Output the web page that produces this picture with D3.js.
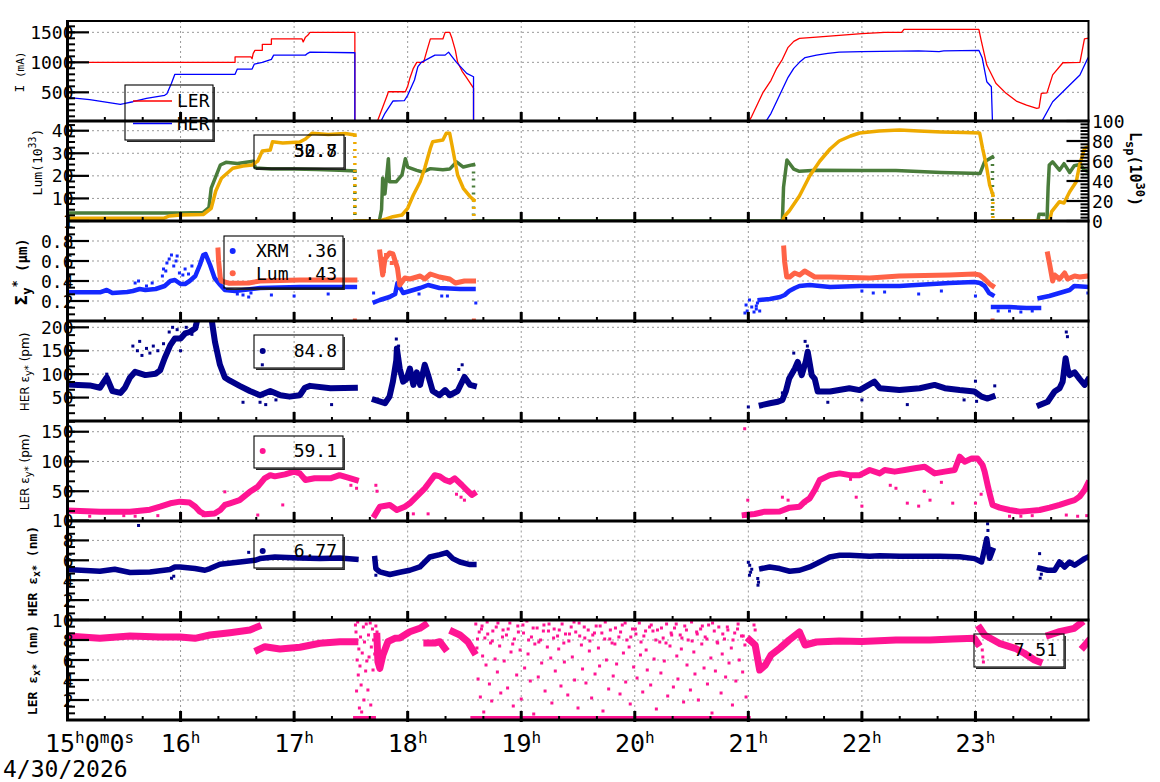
<!DOCTYPE html>
<html><head><meta charset="utf-8">
<script src="https://cdn.jsdelivr.net/npm/d3@7"></script>
<style>body{margin:0;background:#fff}svg{display:block}text{font-family:'DejaVu Sans Mono',monospace;fill:#000}</style>
</head><body><svg id="c" width="1160" height="782"></svg>
<script>
// ---------------- DATA ----------------
const hourTicks = [15,16,17,18,19,20,21,22,23];
const dateLabel = "4/30/2026";
const iTicks = [500,1000,1500];
const lumTicks = [10,20,30,40];
const lspTicks = [0,20,40,60,80,100];
const sigmaTicks = [0.2,0.4,0.6,0.8,1];
const herEyTicks = [50,100,150,200];
const lerEyTicks = [50,100,150];
const exTicks = [2,4,6,8,10];

// Beam currents (mA)
const lerCurrent = [[15.0,1000],[16.48,1000],[16.48,1090],[16.62,1090],[16.63,1060],[16.64,1150],[16.655,1200],[16.72,1200],[16.72,1300],[16.80,1300],[16.80,1390],[17.07,1390],[17.08,1340],[17.10,1420],[17.12,1450],[17.14,1500],[17.535,1500],[17.535,0],[17.73,0],[17.76,150],[17.79,300],[17.82,450],[17.83,510],[17.98,510],[18.0,600],[18.02,740],[18.05,900],[18.08,1000],[18.14,1000],[18.17,1200],[18.2,1390],[18.31,1390],[18.33,1500],[18.37,1500],[18.39,1400],[18.42,1200],[18.44,1000],[18.48,850],[18.52,740],[18.58,570],[18.58,0],[21.0,0],[21.03,100],[21.08,300],[21.13,500],[21.2,700],[21.25,900],[21.3,1050],[21.35,1250],[21.4,1350],[21.45,1400],[21.6,1420],[21.8,1450],[22.0,1480],[22.2,1500],[22.35,1500],[22.37,1550],[23.03,1550],[23.05,1370],[23.1,955],[23.18,650],[23.27,483],[23.36,355],[23.45,288],[23.54,233],[23.56,240],[23.58,483],[23.63,490],[23.68,790],[23.77,993],[23.92,1000],[23.96,1390],[23.99,1400]];
const herCurrent = [[15.0,417],[15.2,380],[15.47,300],[15.5,310],[15.58,343],[15.7,400],[15.86,450],[15.88,477],[15.92,650],[15.95,800],[16.48,800],[16.5,888],[16.63,888],[16.65,972],[16.72,1000],[16.80,1050],[16.82,1120],[17.10,1120],[17.12,1150],[17.14,1170],[17.535,1160],[17.535,0],[17.76,0],[17.8,150],[17.87,355],[17.97,360],[18.0,450],[18.06,705],[18.09,927],[18.12,1000],[18.24,1120],[18.33,1120],[18.36,1170],[18.38,1120],[18.43,1000],[18.52,816],[18.58,760],[18.58,0],[21.15,0],[21.2,150],[21.25,350],[21.3,550],[21.35,750],[21.4,900],[21.45,1000],[21.5,1080],[21.6,1120],[21.7,1150],[21.8,1170],[22.0,1180],[22.5,1190],[22.68,1180],[22.72,1190],[23.03,1200],[23.06,1072],[23.1,677],[23.14,593],[23.15,0],[23.58,0],[23.68,343],[23.77,510],[23.83,622],[23.92,788],[23.99,1072]];

// Luminosity (left axis, 10^33) and specific luminosity (right axis, 10^30)
const lumLeft = [[15.0,3.5],[15.5,3.5],[16.0,3.5],[16.2,3.8],[16.25,6],[16.27,14.6],[16.35,24.8],[16.4,26],[16.5,25.5],[16.64,26.5],[16.66,23.5],[16.8,23],[17.0,23],[17.2,22.8],[17.4,22.5],[17.535,22.2],[17.535,0],[17.75,0],[17.77,5],[17.78,19],[17.80,12],[17.83,27.6],[17.84,17.4],[17.9,17.4],[17.95,20.4],[17.98,27.6],[18.0,23.9],[18.08,22.4],[18.13,21.7],[18.2,23.2],[18.31,22.7],[18.37,23],[18.43,26.2],[18.49,23.9],[18.58,25],[18.58,0],[21.30,0],[21.31,15],[21.34,27],[21.4,23],[21.45,22],[21.6,22.5],[22.0,22.4],[22.3,22.4],[22.7,21.5],[23.04,21],[23.08,26.2],[23.15,28.4],[23.15,0],[23.55,0],[23.56,3],[23.6,3],[23.6,0],[23.63,0],[23.64,15],[23.65,24.8],[23.68,26.2],[23.74,22.5],[23.78,25.4],[23.83,21.5],[23.87,24.5],[23.92,25],[23.96,22.5],[23.99,22]];
const lspRight = [[15.0,2.7],[15.85,2.7],[15.9,5],[16.0,6],[16.2,6.5],[16.27,12.7],[16.31,30],[16.36,42.7],[16.46,52.7],[16.55,55],[16.63,56],[16.68,60],[16.72,70],[16.79,71],[16.81,79.3],[16.9,78],[17.05,79],[17.1,82],[17.157,87.7],[17.3,86.5],[17.45,87.5],[17.535,86],[17.535,0],[17.77,0],[17.78,1],[17.81,2],[17.87,4.3],[17.95,6],[18.0,12.7],[18.05,26],[18.11,39.3],[18.15,52.7],[18.2,72.7],[18.22,79.3],[18.31,81],[18.34,87.7],[18.37,87.7],[18.39,76],[18.44,46],[18.49,32.7],[18.55,24.3],[18.583,21],[18.583,0],null,[21.30,0],[21.32,5],[21.36,10],[21.45,25],[21.54,45],[21.63,60],[21.72,72],[21.8,80],[21.9,85],[21.98,88],[22.15,90],[22.33,91],[22.5,90],[22.7,89],[22.9,88.5],[23.037,88],[23.063,72.7],[23.095,56],[23.125,36],[23.154,26],[23.154,0],[23.63,0],[23.653,0],[23.671,9.3],[23.74,19.3],[23.78,18],[23.83,29.3],[23.888,39.3],[23.917,56],[23.961,72.7],[23.99,74]];

// Vertical beam size (um)
const sigmaXrm = [[15.0,0.287],[15.29,0.287],[15.35,0.31],[15.4,0.28],[15.53,0.29],[15.58,0.30],[15.64,0.32],[15.69,0.31],[15.78,0.32],[15.86,0.35],[15.91,0.40],[15.95,0.41],[16.0,0.37],[16.04,0.37],[16.08,0.40],[16.13,0.45],[16.17,0.56],[16.2,0.66],[16.22,0.67],[16.26,0.56],[16.30,0.43],[16.35,0.36],[16.39,0.31],[16.48,0.30],[16.7,0.33],[17.05,0.34],[17.535,0.34],null,[17.71,0.19],[17.755,0.21],[17.84,0.24],[17.89,0.27],[17.91,0.38],[17.96,0.28],[18.02,0.30],[18.11,0.33],[18.18,0.36],[18.28,0.33],[18.46,0.32],[18.58,0.32],null,[21.1,0.21],[21.19,0.22],[21.28,0.24],[21.32,0.26],[21.36,0.30],[21.41,0.33],[21.45,0.35],[21.54,0.36],[21.72,0.34],[21.98,0.35],[22.33,0.35],[22.77,0.38],[22.99,0.39],[23.04,0.38],[23.08,0.35],[23.12,0.28],[23.15,0.26],null,[23.155,0.14],[23.3,0.14],[23.45,0.13],[23.56,0.13],null,[23.565,0.23],[23.65,0.25],[23.74,0.28],[23.83,0.31],[23.87,0.35],[23.99,0.34]];
const sigmaXrmPts = [[20.97,0.08],[20.98,0.16],[20.99,0.10],[21.01,0.21],[21.03,0.14],[21.05,0.09],[21.07,0.12],[21.08,0.18],[21.1,0.1],[21.07,0.15],[15.84,0.45],[15.85,0.52],[15.87,0.5],[15.88,0.58],[15.9,0.62],[15.92,0.66],[15.94,0.55],[15.96,0.6],[15.97,0.65],[15.99,0.48],[16.02,0.46],[16.04,0.52],[16.07,0.47],[16.1,0.55],[15.6,0.38],[15.63,0.4],[15.7,0.35],[15.75,0.38],[16.5,0.27],[16.55,0.26],[16.6,0.24],[16.62,0.28],[16.8,0.26],[17.0,0.25],[17.3,0.27],[17.7,0.28],[18.6,0.18],[22.0,0.3],[22.1,0.28],[22.2,0.29],[22.5,0.27],[22.7,0.3],[23.2,0.1],[23.3,0.1],[23.4,0.09],[23.5,0.1],[23.0,0.25],[23.99,0.28],[18.3,0.25],[18.35,0.25],[18.1,0.27]];
const sigmaLum = [[16.33,0.71],[16.335,0.6],[16.35,0.43],[16.36,0.40],[16.43,0.377],[16.6,0.38],[16.7,0.40],[17.05,0.41],[17.535,0.41],null,[17.755,0.69],[17.77,0.55],[17.78,0.46],[17.8,0.62],[17.84,0.68],[17.87,0.67],[17.89,0.6],[17.91,0.53],[17.93,0.36],[17.975,0.43],[18.02,0.42],[18.11,0.45],[18.15,0.42],[18.2,0.47],[18.28,0.44],[18.37,0.42],[18.42,0.38],[18.5,0.40],[18.58,0.40],null,[21.312,0.73],[21.32,0.59],[21.338,0.44],[21.364,0.44],[21.408,0.48],[21.452,0.46],[21.496,0.50],[21.54,0.47],[21.585,0.44],[21.72,0.44],[22.07,0.43],[22.33,0.45],[22.77,0.46],[22.99,0.47],[23.037,0.46],[23.08,0.42],[23.125,0.37],[23.151,0.35],null,[23.636,0.67],[23.653,0.57],[23.68,0.40],[23.697,0.46],[23.741,0.42],[23.785,0.48],[23.812,0.42],[23.873,0.45],[23.917,0.44],[23.99,0.45]];
const sigmaLumPts = [[17.535,0.005],[18.583,0.005],[23.151,0.005],[17.77,0.62],[17.79,0.5],[17.81,0.66],[17.86,0.58]];

// HER vertical emittance (pm)
const herEyLine = [[15.0,78],[15.2,76],[15.29,71],[15.35,93],[15.4,64],[15.47,60],[15.51,71],[15.555,93],[15.6,105],[15.69,98],[15.78,101],[15.82,108],[15.86,134],[15.91,162],[15.95,176],[16.0,176],[16.04,187],[16.08,190],[16.13,198],[16.17,240],[16.26,240],[16.285,198],[16.303,169],[16.347,120],[16.39,93],[16.435,86],[16.52,75],[16.61,64],[16.7,55],[16.79,64],[16.88,55],[16.96,52],[17.05,55],[17.095,71],[17.14,75],[17.32,70],[17.535,71],null,[17.71,45],[17.8,38],[17.84,52],[17.87,84],[17.9,130],[17.905,155],[17.93,112],[17.96,84],[17.99,90],[18.02,112],[18.05,77],[18.08,104],[18.11,77],[18.15,120],[18.18,98],[18.22,64],[18.28,55],[18.33,66],[18.37,55],[18.44,64],[18.5,94],[18.55,77],[18.583,75],null,[21.118,34],[21.19,38],[21.26,41],[21.3,45],[21.33,63],[21.36,91],[21.41,112],[21.435,126],[21.47,98],[21.505,126],[21.523,148],[21.558,98],[21.585,90],[21.611,63],[21.72,63],[21.89,70],[21.98,66],[22.11,84],[22.157,70],[22.33,66],[22.51,70],[22.64,77],[22.73,70],[22.86,66],[22.99,63],[23.054,52],[23.107,48],[23.151,52],null,[23.565,34],[23.636,41],[23.697,63],[23.741,70],[23.768,84],[23.794,134],[23.812,110],[23.829,98],[23.873,104],[23.917,90],[23.961,77],[23.99,88]];
const herEyPts = [[15.58,160],[15.62,150],[15.64,170],[15.66,140],[15.7,155],[15.73,145],[15.76,160],[15.8,150],[15.35,100],[15.9,190],[15.93,200],[15.97,195],[16.0,150],[16.05,200],[16.1,185],[15.85,165],[16.7,40],[16.75,35],[16.84,45],[16.72,120],[17.33,35],[16.55,40],[17.9,175],[17.92,160],[18.45,110],[18.48,120],[21.3,60],[21.4,145],[21.5,170],[21.52,160],[22.4,35],[23.01,42],[23.17,75],[23.8,190],[23.81,180],[23.0,85],[22.9,45],[21.0,30],[21.7,40],[22.0,45]];

// LER vertical emittance (pm)
const lerEyLine = [[15.0,17.5],[15.29,15.7],[15.555,15.7],[15.73,19],[15.82,24],[15.91,29.7],[15.995,32.5],[16.08,31],[16.13,24],[16.17,15.7],[16.215,11.2],[16.3,12.5],[16.35,18.5],[16.39,27],[16.435,29.7],[16.52,35],[16.61,49],[16.68,57.7],[16.74,71.7],[16.79,77],[16.83,75],[16.92,78.4],[17.0,82.9],[17.05,80],[17.1,68.9],[17.18,71.7],[17.32,71.7],[17.4,77],[17.49,72],[17.544,69],null,[17.711,10],[17.755,24],[17.843,26.9],[17.905,18.5],[17.975,24],[18.019,29.7],[18.063,38],[18.107,46.5],[18.151,54.9],[18.195,66],[18.239,77],[18.283,75],[18.327,69],[18.371,66],[18.415,71.7],[18.477,60.5],[18.521,52],[18.565,43.7],[18.583,46],null,[20.968,10],[21.056,11.8],[21.144,15.7],[21.276,16],[21.364,22.4],[21.452,24],[21.496,32.5],[21.54,38],[21.585,52],[21.629,68.9],[21.717,77],[21.805,80],[21.893,77],[21.981,77],[22.069,85.7],[22.157,80],[22.201,85.7],[22.289,82.9],[22.377,85.7],[22.465,88.5],[22.553,91],[22.641,80],[22.729,83],[22.817,85.7],[22.861,108],[22.905,99.7],[22.967,105],[23.019,105],[23.063,94],[23.081,82.9],[23.107,60.5],[23.125,46],[23.151,27],[23.213,22.4],[23.301,18.5],[23.389,15.7],[23.477,17],[23.565,18.5],[23.653,22.4],[23.741,27],[23.829,32.5],[23.873,35],[23.917,40.9],[23.961,52],[23.99,63]];
const lerEyPts = [[20.995,35],[20.968,155],[15.2,8],[15.5,9],[15.6,8],[15.8,9],[16.0,10],[16.2,9],[16.39,49],[16.68,10],[16.9,27],[17.5,60],[17.55,55],[17.72,60],[17.73,50],[18.0,10],[18.05,12],[18.18,12],[18.43,45],[18.47,40],[18.5,35],[21.3,40],[21.35,35],[21.5,30],[21.6,55],[21.95,40],[22.0,25],[22.4,30],[22.5,25],[22.6,35],[22.8,30],[23.0,30],[23.05,45],[23.3,8],[23.4,8],[23.5,9],[23.8,10],[23.9,8],[23.98,9],[22.3,55],[22.25,60],[21.9,70],[22.55,50],[22.7,65]];

// HER horizontal emittance (nm)
const herExLine = [[15.0,5.07],[15.29,4.9],[15.42,5.1],[15.555,4.77],[15.731,4.83],[15.907,5.07],[15.95,5.33],[15.995,5.33],[16.127,5.17],[16.215,5.0],[16.259,5.17],[16.347,5.6],[16.523,5.83],[16.655,6.0],[16.699,6.17],[16.831,6.33],[17.051,6.23],[17.227,6.17],[17.403,6.23],[17.544,6.1],null,[17.711,6.17],[17.72,5.17],[17.755,4.83],[17.843,4.57],[17.931,4.8],[18.019,5.0],[18.107,5.33],[18.151,5.83],[18.195,6.33],[18.283,6.57],[18.345,6.77],[18.398,6.17],[18.46,5.83],[18.548,5.57],[18.583,5.57],null,[21.118,5.17],[21.188,5.33],[21.276,5.17],[21.364,4.9],[21.452,5.0],[21.54,5.33],[21.629,5.83],[21.717,6.33],[21.805,6.5],[21.893,6.5],[22.069,6.4],[22.157,6.45],[22.333,6.4],[22.509,6.4],[22.685,6.4],[22.861,6.35],[22.993,6.17],[23.054,5.83],[23.081,7.17],[23.099,8.17],[23.125,6.2],[23.151,7.0],null,[23.565,5.2],[23.636,5.0],[23.697,5.0],[23.741,5.83],[23.785,5.33],[23.829,5.83],[23.873,5.5],[23.917,5.83],[23.961,6.17],[23.99,6.33]];
const herExPts = [[21.012,5.5],[21.02,4.8],[21.03,5.1],[21.083,4.17],[21.085,3.5],[21.09,3.8],[23.107,9.67],[23.11,9.0],[15.63,9.5],[15.92,4.2],[15.94,4.4],[16.6,6.8],[17.71,5.8],[17.72,4.5],[23.565,6.67],[23.57,4.2],[23.58,4.6],[21.0,5.8],[21.01,4.5]];

// LER horizontal emittance (nm)
const lerExLine = [[15.0,8.4],[15.29,8.17],[15.555,8.4],[15.819,8.3],[15.995,8.3],[16.127,8.17],[16.259,8.5],[16.435,8.73],[16.611,9.0],[16.681,9.33],null,[16.681,7.0],[16.743,7.33],[16.875,7.1],[17.051,7.27],[17.227,7.67],[17.403,7.83],[17.535,7.83],null,[17.729,8.37],[17.738,5.83],[17.755,5.17],[17.782,6.5],[17.826,7.83],[17.887,8.17],[17.931,8.2],[18.019,8.83],[18.107,9.17],[18.151,9.5],null,[18.169,7.7],[18.239,7.7],[18.283,7.83],[18.327,7.17],null,[18.398,8.83],[18.46,8.5],[18.53,7.83],[18.583,6.83],null,[21.012,8.0],[21.06,7.5],[21.1,5.0],[21.15,5.5],[21.2,6.5],[21.28,7.2],[21.36,8.0],[21.45,8.8],[21.5,7.5],[21.6,7.8],[21.8,7.9],[22.0,7.85],[22.3,8.0],[22.6,8.0],[22.8,8.1],[22.99,8.17],[23.02,7.67],null,[23.04,9.17],[23.08,8.5],[23.21,7.67],[23.35,7.17],[23.43,6.67],[23.52,6.0],[23.56,5.83],null,[23.65,8.5],[23.74,8.83],[23.87,9.17],[23.926,9.67],null,[23.952,7.33],[23.99,7.83],null,[17.55,0.05],[17.6,0.05],null,[17.65,0.05],[17.69,0.05],null,[18.583,0.05],[20.99,0.05]];
const lerExPts = [[17.54,9.5],[17.545,8.8],[17.55,2.9],[17.555,6.0],[17.56,9.8],[17.565,4.5],[17.57,7.1],[17.575,1.2],[17.58,5.4],[17.585,8.3],[17.59,3.5],[17.595,0.8],[17.60,6.7],[17.61,9.3],[17.615,2.0],[17.62,7.8],[17.63,4.9],[17.635,9.6],[17.64,5.9],[17.65,3.0],[17.655,8.5],[17.66,6.3],[17.67,9.7],[17.675,1.5],[17.68,7.3],[17.69,9.1],[17.695,5.0],[17.70,8.0],[17.71,6.6],[17.72,9.4],[17.725,7.5],[17.73,8.8],
[18.60,9.6],[18.61,7.2],[18.62,4.1],[18.63,8.8],[18.64,2.3],[18.65,9.1],[18.66,6.4],[18.67,0.8],[18.68,8.2],[18.69,5.5],[18.70,9.8],[18.72,3.6],[18.73,7.7],[18.74,1.9],[18.75,8.9],[18.77,6.1],[18.78,9.3],[18.79,4.8],[18.81,7.4],[18.82,2.7],[18.84,9.0],[18.85,5.9],[18.87,8.5],[18.88,3.2],[18.90,9.7],[18.91,6.8],[18.93,1.4],[18.94,8.1],[18.96,4.5],[18.97,9.4],[18.99,7.0],[19.00,2.1],[19.02,8.7],[19.03,5.2],[19.05,9.9],[19.06,6.6],[19.08,3.9],[19.09,8.3],[19.11,0.6],[19.12,7.6],[19.14,9.2],[19.15,4.3],[19.17,8.0],[19.18,5.7],[19.20,9.5],[19.21,2.9],[19.23,7.3],[19.24,8.9],[19.26,6.2],[19.27,1.7],[19.29,9.1],[19.30,4.9],[19.32,8.4],[19.33,7.1],[19.35,3.4],[19.36,9.6],[19.38,5.8],[19.39,8.6],[19.41,2.5],[19.42,7.9],[19.44,9.3],[19.45,6.3],[19.47,4.0],[19.48,8.8],[19.50,1.2],[19.51,9.7],[19.53,7.5],[19.54,5.1],[19.56,8.2],[19.57,3.7],[19.59,9.0],[19.60,6.9],[19.62,2.2],[19.63,8.5],[19.65,4.6],[19.66,9.4],[19.68,7.2],[19.69,5.4],[19.71,8.7],[19.72,0.9],[19.74,9.8],[19.75,6.0],[19.77,3.1],[19.78,8.1],[19.80,7.7],[19.81,4.4],[19.83,9.2],[19.84,5.6],[19.86,8.3],[19.87,2.6],[19.89,9.5],[19.90,6.7],[19.92,3.8],[19.93,8.0],[19.95,7.3],[19.96,1.6],[19.98,9.1],[19.99,5.3],[20.01,8.6],[20.02,4.2],[20.04,9.7],[20.05,6.5],[20.07,2.8],[20.08,8.4],[20.10,7.0],[20.11,5.0],[20.13,9.3],[20.14,3.5],[20.16,8.9],[20.17,6.1],[20.19,1.1],[20.20,9.0],[20.22,7.8],[20.23,4.7],[20.25,8.2],[20.26,5.9],[20.28,9.6],[20.29,2.4],[20.31,7.4],[20.32,8.7],[20.34,3.3],[20.35,9.2],[20.37,6.4],[20.38,4.1],[20.40,8.5],[20.41,7.1],[20.43,1.8],[20.44,9.4],[20.46,5.5],[20.47,8.0],[20.49,3.0],[20.50,9.8],[20.52,6.8],[20.53,4.6],[20.55,8.6],[20.56,2.0],[20.58,9.1],[20.59,7.6],[20.61,5.2],[20.62,8.3],[20.64,3.6],[20.65,9.5],[20.67,6.2],[20.68,0.7],[20.70,8.9],[20.71,4.9],[20.73,7.7],[20.74,9.3],[20.76,2.7],[20.77,6.6],[20.79,8.1],[20.80,4.3],[20.82,9.0],[20.83,5.7],[20.85,7.2],[20.86,1.5],[20.88,8.7],[20.89,3.9],[20.91,9.6],[20.92,6.0],[20.94,8.4],[20.95,4.8],[20.97,7.5],[20.98,2.3],
[18.615,8.1],[18.655,9.4],[18.705,8.6],[18.745,7.9],[18.795,9.7],[18.835,8.3],[18.885,9.1],[18.925,7.6],[18.975,8.8],[19.015,9.5],[19.065,8.0],[19.105,9.2],[19.155,7.8],[19.195,8.9],[19.245,9.6],[19.285,8.2],[19.335,9.0],[19.375,7.7],[19.425,8.6],[19.465,9.8],[19.515,8.4],[19.555,9.3],[19.605,7.9],[19.645,8.7],[19.695,9.4],[19.735,8.1],[19.785,9.0],[19.825,7.6],[19.875,8.8],[19.915,9.7],[19.965,8.3],[20.005,9.1],[20.055,7.8],[20.095,8.9],[20.145,9.5],[20.185,8.0],[20.235,9.2],[20.275,7.7],[20.325,8.5],[20.365,9.6],[20.415,8.2],[20.455,9.0],[20.505,7.9],[20.545,8.8],[20.595,9.4],[20.635,8.1],[20.685,9.7],[20.725,7.8],[20.775,8.6],[20.815,9.3],[20.865,8.0],[20.905,9.1],[20.955,8.4],
[21.05,9.5],[21.06,9.0],[21.07,6.2],[21.08,5.5],[23.06,7.0],[23.065,6.3],[23.07,5.8]];

const currentLegend = ["LER","HER"];
const sigmaLegend = ["XRM","Lum"];
const sigmaLegendValues = [".36",".43"];
const lumLegendValues = ["50.7","32.8"];
const herEyLegendValue = "84.8";
const lerEyLegendValue = "59.1";
const herExLegendValue = "6.77";
const lerExLegendValue = "7.51";

// ---------------- DRAWING ----------------
const svg = d3.select('#c');
const L = 67, R = 1088.5;
const x = d3.scaleLinear().domain([15,24]).range([67,1089]);
const C = {red:'#ff0000', blue:'#0000ff', green:'#4a7c3b', orange:'#eeaa00', xrm:'#1428ff', lum:'#ff6347', navy:'#00008b', pink:'#ff1493'};

const panels = [
  {top:21, bot:121, dom:[22,1689], ticks:iTicks, minor:[100,1650,100]},
  {top:121, bot:221, dom:[0,44.3], ticks:lumTicks, minor:[2.5,44,2.5]},
  {top:221, bot:321, dom:[0,1], ticks:sigmaTicks, minor:[0.2/3,0.99,0.2/3]},
  {top:321, bot:421, dom:[0,213.5], ticks:herEyTicks, minor:[50/3,212,50/3]},
  {top:421, bot:521, dom:[0,168], ticks:lerEyTicks, minor:[50/3,167,50/3]},
  {top:520.5, bot:620, dom:[0,10], ticks:exTicks, minor:[2/3,9.9,2/3]},
  {top:620, bot:720, dom:[0,10], ticks:exTicks, minor:[2/3,9.9,2/3]},
];
panels.forEach(p => p.y = d3.scaleLinear().domain(p.dom).range([p.bot, p.top]));
const yLspRight = d3.scaleLinear().domain([0,100]).range([221,121]);

const defs = svg.append('defs');
panels.forEach((p,i) => {
  defs.append('clipPath').attr('id','clip'+i).append('rect')
    .attr('x',L).attr('y',p.top).attr('width',R-L).attr('height',p.bot-p.top);
});

const gGrid = svg.append('g');
const gData = svg.append('g');
const gAxes = svg.append('g');
const gLab = svg.append('g');

// grid
panels.forEach(p => {
  hourTicks.slice(1).forEach(h => {
    gGrid.append('line').attr('x1',x(h)).attr('x2',x(h)).attr('y1',p.top).attr('y2',p.bot)
      .attr('stroke','#999').attr('stroke-width',1).attr('stroke-dasharray','2,3');
  });
  p.ticks.forEach(v => {
    const yy = p.y(v);
    if (yy > p.top + 2 && yy < p.bot - 2)
      gGrid.append('line').attr('x1',L).attr('x2',R).attr('y1',yy).attr('y2',yy)
        .attr('stroke','#999').attr('stroke-width',1).attr('stroke-dasharray','2,3');
  });
});

function drawSeries(pi, data, yScale, color, width, dotDrops) {
  const g = gData.append('g').attr('clip-path','url(#clip'+pi+')');
  const runs = [], drops = [];
  let cur = [];
  data.forEach(p => {
    if (p === null) { if (cur.length) runs.push(cur); cur = []; return; }
    if (dotDrops && cur.length && p[0] === cur[cur.length-1][0]) {
      drops.push([cur[cur.length-1], p]); runs.push(cur); cur = [p]; return;
    }
    cur.push(p);
  });
  if (cur.length) runs.push(cur);
  const line = d3.line().x(d => x(d[0])).y(d => yScale(d[1]));
  runs.forEach(r => g.append('path').attr('d', line(r)).attr('fill','none')
    .attr('stroke',color).attr('stroke-width',width).attr('stroke-linejoin','round').attr('stroke-linecap','square'));
  drops.forEach(r => g.append('path').attr('d', line(r)).attr('fill','none')
    .attr('stroke',color).attr('stroke-width',width).attr('stroke-dasharray','2,5'));
}
function drawPts(pi, data, yScale, color, s) {
  gData.append('g').attr('clip-path','url(#clip'+pi+')').selectAll('rect').data(data).join('rect')
    .attr('x', d => x(d[0]) - s/2).attr('y', d => yScale(d[1]) - s/2)
    .attr('width', s).attr('height', s).attr('fill', color);
}

// panel 1
drawSeries(0, lerCurrent, panels[0].y, C.red, 1.3);
drawSeries(0, herCurrent, panels[0].y, C.blue, 1.3);
// panel 2
drawSeries(1, lumLeft, panels[1].y, C.green, 3.5, true);
drawSeries(1, lspRight, yLspRight, C.orange, 3.5, true);
// panel 3
drawPts(2, sigmaXrmPts, panels[2].y, C.xrm, 3);
drawSeries(2, sigmaXrm, panels[2].y, C.xrm, 4.5);
drawSeries(2, sigmaLum, panels[2].y, C.lum, 5);
drawPts(2, sigmaLumPts, panels[2].y, C.lum, 4);
// panel 4
drawPts(3, herEyPts, panels[3].y, C.navy, 3);
drawSeries(3, herEyLine, panels[3].y, C.navy, 6);
// panel 5
drawPts(4, lerEyPts, panels[4].y, C.pink, 3);
drawSeries(4, lerEyLine, panels[4].y, C.pink, 6);
// panel 6
drawPts(5, herExPts, panels[5].y, C.navy, 3);
drawSeries(5, herExLine, panels[5].y, C.navy, 5.5);
// panel 7
drawPts(6, lerExPts, panels[6].y, C.pink, 3);
drawSeries(6, lerExLine, panels[6].y, C.pink, 7);

// axes: ticks and frames
panels.forEach(p => {
  p.ticks.forEach(v => {
    const yy = p.y(v);
    gAxes.append('line').attr('x1',L).attr('x2',L+22).attr('y1',yy).attr('y2',yy).attr('stroke','#000').attr('stroke-width',2.2);
  });
  d3.range(p.minor[0], p.minor[1], p.minor[2]).forEach(v => {
    const yy = p.y(v);
    gAxes.append('line').attr('x1',L).attr('x2',L+8).attr('y1',yy).attr('y2',yy).attr('stroke','#000').attr('stroke-width',2);
  });
  d3.range(15+1/3, 24-0.01, 1/3).forEach(t => {
    const major = Math.abs(t - Math.round(t)) < 0.01;
    gAxes.append('line').attr('x1',x(t)).attr('x2',x(t))
      .attr('y1', p.bot - (major ? 9 : 4)).attr('y2', p.bot + (major ? 2 : 0))
      .attr('stroke','#000').attr('stroke-width', major ? 3 : 2);
  });
  p.ticks.forEach(v => {
    gLab.append('text').attr('x',73.5).attr('y',p.y(v)).attr('text-anchor','end')
      .attr('dominant-baseline','central').attr('font-size',18).text(String(v));
  });
});
lspTicks.forEach(v => {
  const yy = yLspRight(v);
  gAxes.append('line').attr('x1',R-22).attr('x2',R).attr('y1',yy).attr('y2',yy).attr('stroke','#000').attr('stroke-width',2.2);
  gLab.append('text').attr('x',1092).attr('y',yy).attr('dominant-baseline','central').attr('font-size',18).text(String(v));
});
d3.range(20/6, 100, 20/6).forEach(v => {
  const yy = yLspRight(v);
  gAxes.append('line').attr('x1',R-8).attr('x2',R).attr('y1',yy).attr('y2',yy).attr('stroke','#000').attr('stroke-width',2);
});
gAxes.append('line').attr('x1',L).attr('x2',R).attr('y1',21).attr('y2',21).attr('stroke','#000').attr('stroke-width',2);
panels.forEach(p => {
  gAxes.append('line').attr('x1',L-1).attr('x2',R+1).attr('y1',p.bot).attr('y2',p.bot).attr('stroke','#000').attr('stroke-width',3);
});
gAxes.append('line').attr('x1',L+0.5).attr('x2',L+0.5).attr('y1',20).attr('y2',721).attr('stroke','#000').attr('stroke-width',3);
gAxes.append('line').attr('x1',R).attr('x2',R).attr('y1',20).attr('y2',721).attr('stroke','#000').attr('stroke-width',2);

// x axis labels
hourTicks.forEach((h,i) => {
  const t = gLab.append('text').attr('y',751.5).attr('font-size',25);
  if (i === 0) {
    t.attr('x', x(h) - 22).attr('text-anchor','start');
    t.append('tspan').text(String(h));
    t.append('tspan').attr('font-size',16).attr('dy',-9).text('h');
    t.append('tspan').attr('dy',9).text('0');
    t.append('tspan').attr('font-size',16).attr('dy',-9).text('m');
    t.append('tspan').attr('dy',9).text('0');
    t.append('tspan').attr('font-size',16).attr('dy',-9).text('s');
  } else {
    t.attr('x', x(h)).attr('text-anchor','middle');
    t.append('tspan').text(String(h));
    t.append('tspan').attr('font-size',16).attr('dy',-9).text('h');
  }
});
gLab.append('text').attr('x',3).attr('y',777).attr('font-size',23).text(dateLabel);

function vTitle(cx, cy, rot, parts, weight) {
  const t = gLab.append('text').attr('transform',`translate(${cx},${cy}) rotate(${rot})`)
    .attr('text-anchor','middle').attr('font-weight',weight||'normal');
  parts.forEach(pp => {
    const s = t.append('tspan').attr('font-size',pp[1]).text(pp[0]);
    if (pp[2]) s.attr('dy',pp[2]);
    if (pp[3]) s.attr('font-family',pp[3]);
  });
}
vTitle(24, 72, -90, [['I',13],[' (mA)',11]]);
vTitle(42, 162, -90, [['Lum(10',13],['33',10,-6],[')',13,6]]);
vTitle(27, 272, -90, [['Σ',16,0,'DejaVu Sans'],['y',12,4],['*',12,-10],[' (μm)',14,6]], 'bold');
vTitle(29, 372, -90, [['HER ε',12,0,'DejaVu Sans'],['y*',10,3,'DejaVu Sans'],[' (pm)',12,-3,'DejaVu Sans']]);
vTitle(29, 472, -90, [['LER ε',12,0,'DejaVu Sans'],['y*',10,3,'DejaVu Sans'],[' (pm)',12,-3,'DejaVu Sans']]);
vTitle(37, 571, -90, [['HER ε',13],['x*',10,3],[' (nm)',13,-3]], 'bold');
vTitle(37, 670, -90, [['LER ε',13],['x*',10,3],[' (nm)',13,-3]], 'bold');
vTitle(1130, 169, 90, [['L',15],['sp',12,4],['(10',15,-4],['30',12,-6],[')',15,6]], 'bold');

// legends
function box(x0,y0,w,h) {
  gLab.append('path').attr('d',`M${x0+w+1.2},${y0+2}V${y0+h+1.2}H${x0+2}`)
    .attr('fill','none').attr('stroke','#222').attr('stroke-width',1.4);
  gLab.append('rect').attr('x',x0).attr('y',y0).attr('width',w).attr('height',h)
    .attr('fill','none').attr('stroke','#000').attr('stroke-width',1.1);
}
function dot(cx,cy,color) { gLab.append('circle').attr('cx',cx).attr('cy',cy).attr('r',3).attr('fill',color); }
function txt(x0,y0,s,anchor) { gLab.append('text').attr('x',x0).attr('y',y0).attr('font-size',18).attr('text-anchor',anchor||'start').text(s); }

box(125,85,88,55);
gLab.append('line').attr('x1',133).attr('x2',172).attr('y1',101).attr('y2',101).attr('stroke',C.red).attr('stroke-width',1.3);
gLab.append('line').attr('x1',133).attr('x2',172).attr('y1',123.5).attr('y2',123.5).attr('stroke',C.blue).attr('stroke-width',1.3);
txt(177,107,currentLegend[0]); txt(177,129.5,currentLegend[1]);

box(254,135,90,33);
lumLegendValues.forEach(v => txt(337,157,v,'end'));

box(224,236,119,52);
dot(232.7,251,C.xrm); dot(232.7,273.3,C.lum);
txt(256,257,sigmaLegend[0]); txt(256,279.5,sigmaLegend[1]);
txt(337,257,sigmaLegendValues[0],'end'); txt(337,279.5,sigmaLegendValues[1],'end');

box(254,335,89,33); dot(262.7,351,C.navy); txt(337,357,herEyLegendValue,'end');
box(254,436,89,32); dot(262.7,451,C.pink); txt(337,457,lerEyLegendValue,'end');
box(254,535,89,33); dot(262.7,551,C.navy); txt(337,557,herExLegendValue,'end');
box(974,634,90,33); txt(1057,656,lerExLegendValue,'end');
</script></body></html>
